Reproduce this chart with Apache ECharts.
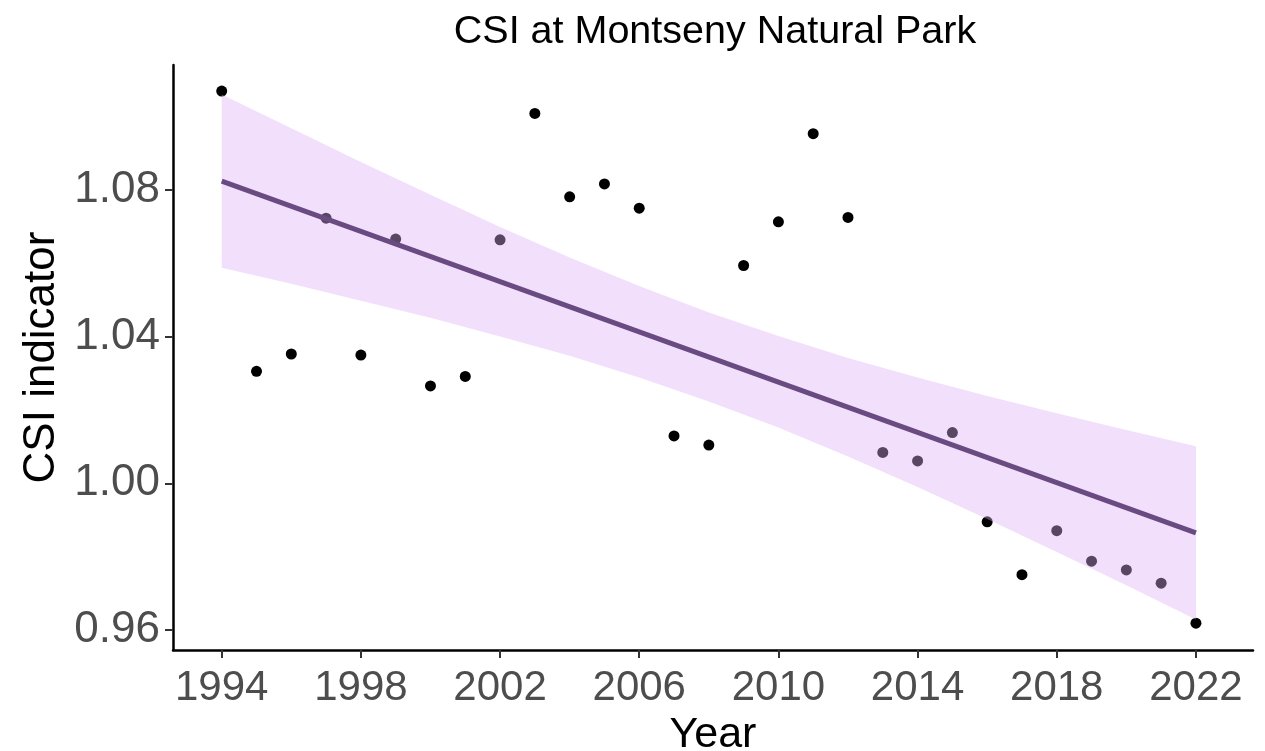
<!DOCTYPE html>
<html>
<head>
<meta charset="utf-8">
<title>CSI at Montseny Natural Park</title>
<script src="https://cdn.jsdelivr.net/npm/echarts@6/dist/echarts.min.js"></script>
<style>
  html, body { margin: 0; padding: 0; background: #fff; }
  #chart { width: 1265px; height: 751px; }
</style>
</head>
<body>
<div id="chart"></div>
<script>
// yearly CSI values
var years = [1994, 1995, 1996, 1997, 1998, 1999, 2000, 2001, 2002, 2003,
             2004, 2005, 2006, 2007, 2008, 2009, 2010, 2011, 2012, 2013,
             2014, 2015, 2016, 2017, 2018, 2019, 2020, 2021, 2022];
var csi = [1.1068, 1.0305, 1.0352, 1.0722, 1.0349, 1.0665, 1.0265, 1.0291, 1.0663, 1.1007,
           1.0780, 1.0815, 1.0749, 1.0129, 1.0104, 1.0593, 1.0712, 1.0952, 1.0724, 1.0084,
           1.0061, 1.0138, 0.9895, 0.9751, 0.9871, 0.9788, 0.9764, 0.9728, 0.9619];

// linear trend (its two ends) and the confidence band
var fitYears = [1994, 2022];
var fitValues = [1.0823, 0.9865];
var bandYears = [1994, 1996, 1998, 2000, 2002, 2004, 2006, 2008,
                 2010, 2012, 2014, 2016, 2018, 2020, 2022];
var bandLower = [1.0587, 1.0543, 1.0497, 1.0451, 1.0400, 1.0347, 1.0288, 1.0223,
                 1.0152, 1.0073, 0.9990, 0.9903, 0.9813, 0.9722, 0.9629];
var bandUpper = [1.1059, 1.0967, 1.0875, 1.0786, 1.0698, 1.0615, 1.0537, 1.0465,
                 1.0401, 1.0341, 1.0288, 1.0238, 1.0191, 1.0145, 1.0101];

// tick labels
var xTicks = [1994, 1998, 2002, 2006, 2010, 2014, 2018, 2022];
var yTicks = [0.96, 1.00, 1.04, 1.08];

var FONT = '"Liberation Sans", Arial, sans-serif';

var chart = echarts.init(document.getElementById('chart'));

chart.setOption({
    backgroundColor: '#fff',
    animation: false,
    title: {
        text: 'CSI at Montseny Natural Park',
        left: 710,
        top: 7,
        textAlign: 'center',
        textStyle: {
            fontFamily: FONT,
            fontSize: 39.5,
            fontWeight: 'normal',
            color: '#000'
        }
    },
    grid: {
        left: 173,
        right: 12,
        top: 65,
        bottom: 101,
        containLabel: false,
        outerBoundsMode: 'none'
    },
    /*X轴*/
    xAxis: {
        type: 'value',
        min: 1992.6,
        max: 2023.64,
        name: 'Year',
        nameLocation: 'middle',
        nameGap: 51,
        nameTextStyle: { fontFamily: FONT, fontSize: 43, color: '#000' },
        splitLine: { show: false },
        axisLine: { show: true, onZero: false, lineStyle: { color: '#000', width: 2.5 } },
        axisTick: {
            show: true,
            customValues: xTicks,
            length: 8,
            lineStyle: { color: '#333', width: 2 }
        },
        axisLabel: {
            customValues: xTicks,
            fontFamily: FONT,
            fontSize: 42,
            color: '#4d4d4d',
            margin: 17,
            formatter: function (v) { return String(v); }
        }
    },
    /*Y轴*/
    yAxis: {
        type: 'value',
        min: 0.9546,
        max: 1.1139,
        name: 'CSI indicator',
        nameLocation: 'middle',
        nameGap: 108,
        nameTextStyle: { fontFamily: FONT, fontSize: 44, color: '#000' },
        splitLine: { show: false },
        axisLine: { show: true, onZero: false, lineStyle: { color: '#000', width: 2.5 } },
        axisTick: {
            show: true,
            customValues: yTicks,
            length: 8,
            lineStyle: { color: '#333', width: 2 }
        },
        axisLabel: {
            customValues: yTicks,
            fontFamily: FONT,
            fontSize: 44,
            color: '#4d4d4d',
            margin: 13,
            formatter: function (v) { return v.toFixed(2); }
        }
    },
    series: [
        {
            name: 'CSI',
            type: 'scatter',
            z: 2,
            symbol: 'circle',
            symbolSize: 11,
            itemStyle: { color: '#000', opacity: 1 },
            data: years.map(function (y, i) { return [y, csi[i]]; })
        },
        {
            // confidence band, drawn over the points like the original
            name: 'band',
            type: 'custom',
            z: 3,
            silent: true,
            data: bandYears.map(function (y, i) { return [y, bandLower[i], bandUpper[i]]; }),
            encode: { x: 0, y: [1, 2] },
            renderItem: function (params, api) {
                if (params.dataIndex !== 0) {
                    return null;
                }
                var pts = [];
                for (var i = 0; i < bandYears.length; i++) {
                    pts.push(api.coord([bandYears[i], bandUpper[i]]));
                }
                for (var j = bandYears.length - 1; j >= 0; j--) {
                    pts.push(api.coord([bandYears[j], bandLower[j]]));
                }
                return {
                    type: 'polygon',
                    shape: { points: pts },
                    style: { fill: 'rgba(220,175,245,0.4)' }
                };
            }
        },
        {
            name: 'trend',
            type: 'line',
            z: 4,
            symbol: 'none',
            lineStyle: { color: '#694b82', width: 5 },
            data: fitYears.map(function (y, i) { return [y, fitValues[i]]; })
        }
    ]
});
</script>
</body>
</html>
